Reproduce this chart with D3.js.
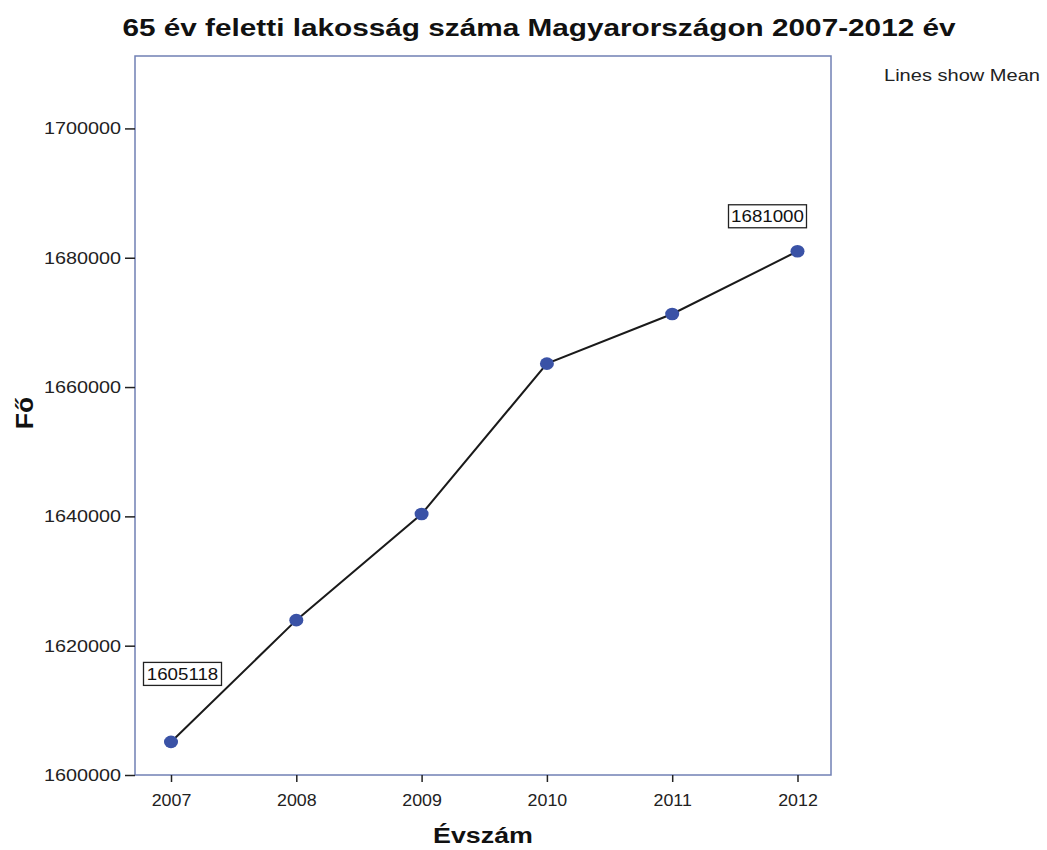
<!DOCTYPE html>
<html><head><meta charset="utf-8">
<script src="https://cdn.jsdelivr.net/npm/d3@7"></script>
<style>body{margin:0;background:#fff}svg{display:block}text{font-family:"Liberation Sans",Arial,sans-serif}</style>
</head><body><svg id="c" width="1047" height="850"></svg>
<script>
const years = [2007, 2008, 2009, 2010, 2011, 2012];
const values = [1605118, 1623950, 1640360, 1663620, 1671300, 1681000];
const yTicks = [1600000, 1620000, 1640000, 1660000, 1680000, 1700000];
const labelled = [{year:2007, value:1605118, text:"1605118"}, {year:2012, value:1681000, text:"1681000"}];

const svg = d3.select("#c");
const L = 135, R = 831, T = 56, B = 775;
const SX = 1.2;
const x = d3.scaleLinear().domain([2007, 2012]).range([171, 797.5]);
const y = d3.scaleLinear().domain([1600000, 1711200]).range([B, T]);

function stretchText(sel, px, py, s) {
  return sel.attr("x", 0).attr("y", 0).attr("transform", `translate(${px},${py}) scale(${s},1)`);
}

svg.append("rect").attr("x", L).attr("y", T).attr("width", R - L).attr("height", B - T)
  .attr("fill", "#fff").attr("stroke", "#7080b4").attr("stroke-width", 1.5);

const ya = svg.append("g").attr("transform", `translate(${L},0)`)
  .call(d3.axisLeft(y).tickValues(yTicks).tickSize(10).tickFormat(d3.format("d")));
ya.select(".domain").remove();
ya.selectAll("line").attr("stroke", "#222").attr("stroke-width", 1.5);
ya.selectAll("text").attr("font-size", 16.5).attr("fill", "#222").attr("dy", null)
  .attr("dominant-baseline", "central")
  .each(function(){ stretchText(d3.select(this), -14, 0, SX); });

const xa = svg.append("g").attr("transform", `translate(0,${B})`)
  .call(d3.axisBottom(x).tickValues(years).tickSize(7).tickFormat(d3.format("d")));
xa.select(".domain").remove();
xa.selectAll("line").attr("stroke", "#222").attr("stroke-width", 1.5);
xa.selectAll("text").attr("font-size", 16.5).attr("fill", "#222").attr("dy", null)
  .each(function(){ stretchText(d3.select(this), 0, 31, 1.08); });

const line = d3.line().x((d, i) => x(years[i])).y(d => y(d));
svg.append("path").datum(values).attr("d", line).attr("fill", "none")
  .attr("stroke", "#1a1a1a").attr("stroke-width", 2);
svg.selectAll("ellipse.pt").data(values).join("ellipse").attr("class", "pt")
  .attr("cx", (d, i) => x(years[i])).attr("cy", d => y(d)).attr("rx", 7).attr("ry", 6.3)
  .attr("fill", "#3a52a6");

labelled.forEach(l => {
  const cx = x(l.year) + (l.year === 2007 ? 11.5 : -30);
  const cy = y(l.value) - (l.year === 2007 ? 68 : 35);
  const g = svg.append("g");
  const w = 78, h = 23;
  g.append("rect").attr("x", cx - w / 2).attr("y", cy - h / 2).attr("width", w).attr("height", h)
    .attr("fill", "#fff").attr("stroke", "#222").attr("stroke-width", 1.3);
  stretchText(g.append("text").attr("text-anchor", "middle").attr("dominant-baseline", "central")
    .attr("font-size", 16).attr("fill", "#111").text(l.text), cx, cy + 0.5, 1.17);
});

stretchText(svg.append("text").attr("text-anchor", "middle")
  .attr("font-size", 24).attr("font-weight", "bold").attr("fill", "#111")
  .text("65 év feletti lakosság száma Magyarországon 2007-2012 év"), 539, 36, 1.24);
stretchText(svg.append("text").attr("text-anchor", "middle")
  .attr("font-size", 22).attr("font-weight", "bold").attr("fill", "#111").text("Évszám"), 483, 843, 1.22);
svg.append("text").attr("transform", "translate(33,413) rotate(-90) scale(1.15,1)").attr("text-anchor", "middle")
  .attr("font-size", 23).attr("font-weight", "bold").attr("fill", "#111").text("Fő");
stretchText(svg.append("text").attr("font-size", 17).attr("fill", "#222").text("Lines show Mean"), 884, 81, 1.18);
</script></body></html>
